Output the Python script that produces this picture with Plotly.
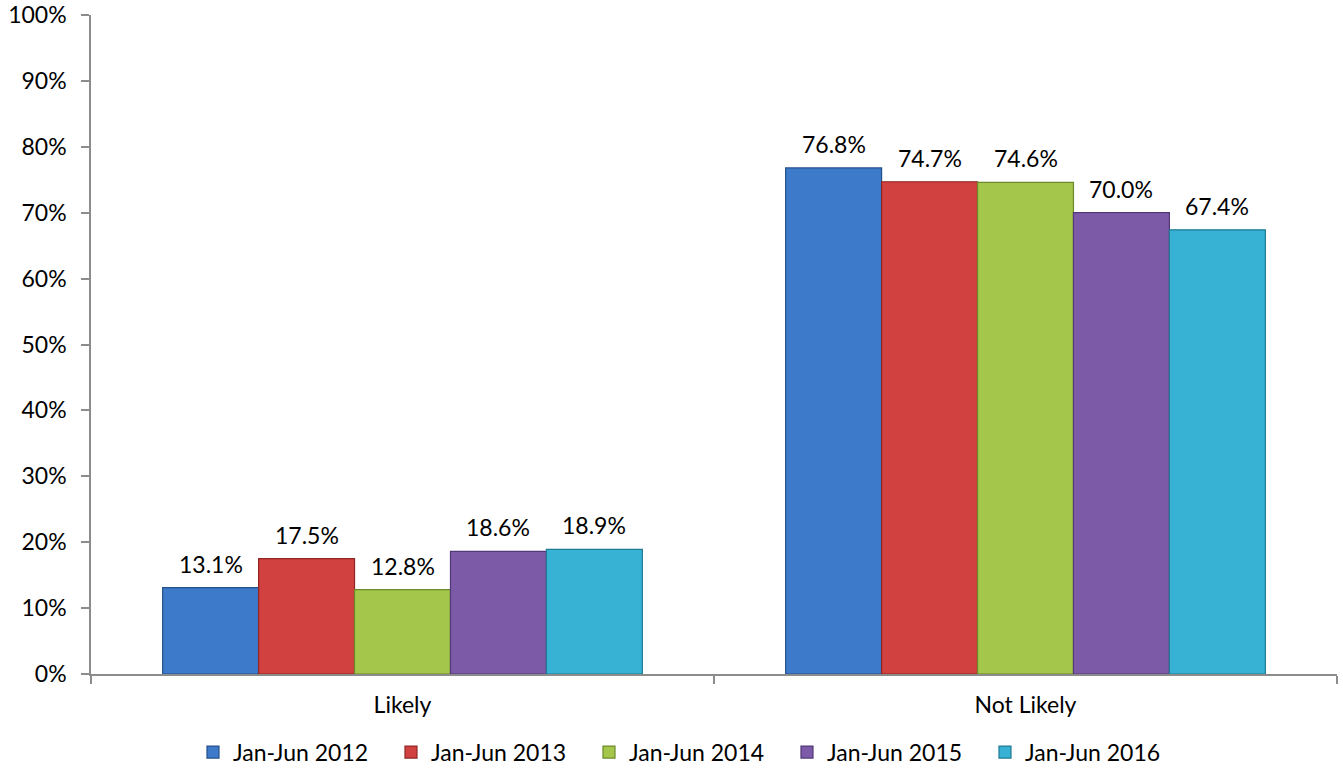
import plotly.graph_objects as go

categories = ["Likely", "Not Likely"]
periods = ["Jan-Jun 2012", "Jan-Jun 2013", "Jan-Jun 2014", "Jan-Jun 2015", "Jan-Jun 2016"]
values = {
    "Jan-Jun 2012": [13.1, 76.8],
    "Jan-Jun 2013": [17.5, 74.7],
    "Jan-Jun 2014": [12.8, 74.6],
    "Jan-Jun 2015": [18.6, 70.0],
    "Jan-Jun 2016": [18.9, 67.4],
}
fill_colors = ["#3d7ac9", "#d1413f", "#a4c64a", "#7d5aa8", "#37b2d5"]
edge_colors = ["#24508a", "#8f2624", "#6d8a2a", "#523877", "#207a94"]
tick_vals = list(range(0, 101, 10))
tick_text = [f"{v}%" for v in tick_vals]

FONT = "Lato, Carlito, Calibri, sans-serif"
FONT_SIZE = 23
AXIS_GREY = "#8c8c8c"
BAR_GAP = 0.23

fig = go.Figure()
for name, fc, ec in zip(periods, fill_colors, edge_colors):
    fig.add_trace(go.Bar(
        name=name,
        x=categories,
        y=values[name],
        marker=dict(color=fc, line=dict(color=ec, width=1.2)),
    ))

# value labels above each bar, placed at the grouped-bar offsets
n = len(periods)
bar_w = (1 - BAR_GAP) / n
annotations = []
for i, name in enumerate(periods):
    offset = (i - (n - 1) / 2) * bar_w
    for ci, v in enumerate(values[name]):
        annotations.append(dict(
            x=ci + offset, y=v, xref="x", yref="y",
            text=f"{v:.1f}%", showarrow=False,
            yanchor="bottom", yshift=8,
            font=dict(family=FONT, size=FONT_SIZE, color="#000000"),
        ))

fig.update_layout(
    barmode="group",
    bargap=BAR_GAP,
    bargroupgap=0,
    width=1343,
    height=777,
    margin=dict(l=91, r=6, t=15, b=103, autoexpand=False),
    paper_bgcolor="white",
    plot_bgcolor="white",
    font=dict(family=FONT, size=FONT_SIZE, color="#000000"),
    annotations=annotations,
    showlegend=True,
    legend=dict(
        orientation="h",
        xref="container", yref="container",
        x=0.1437, xanchor="left",
        y=0.032, yanchor="middle",
        font=dict(family=FONT, size=FONT_SIZE, color="#000000"),
        entrywidth=153,
        itemwidth=30,
        traceorder="normal",
    ),
)
fig.update_yaxes(
    range=[0, 100],
    tickvals=tick_vals,
    ticktext=tick_text,
    showgrid=False,
    zeroline=False,
    showline=True,
    linecolor=AXIS_GREY,
    linewidth=1.5,
    ticks="outside",
    ticklen=8,
    tickcolor=AXIS_GREY,
    tickwidth=1.5,
    ticklabelstandoff=10,
    tickfont=dict(family=FONT, size=FONT_SIZE),
)
fig.update_xaxes(
    showgrid=False,
    showline=True,
    linecolor=AXIS_GREY,
    linewidth=1.5,
    ticks="outside",
    tickson="boundaries",
    ticklen=8,
    tickcolor=AXIS_GREY,
    tickwidth=1.5,
    ticklabelstandoff=10,
    tickfont=dict(family=FONT, size=FONT_SIZE),
)

fig.write_html("out.html")
